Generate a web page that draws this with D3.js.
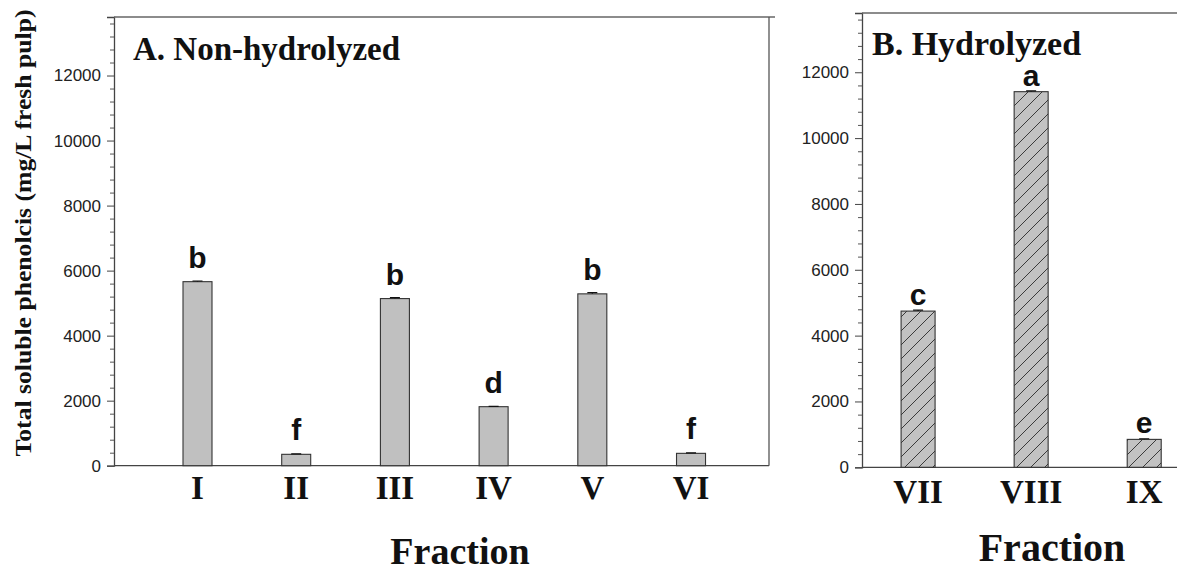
<!DOCTYPE html>
<html>
<head>
<meta charset="utf-8">
<script src="https://d3js.org/d3.v7.min.js"></script>
<style>
  body { margin: 0; background: #fff; }
  svg { display: block; }
</style>
</head>
<body>
<svg id="chart" width="1177" height="571"></svg>
<script>
// panel A: non-hydrolyzed fractions
var fractionsA = ["I", "II", "III", "IV", "V", "VI"];
var valuesA = [5660, 350, 5140, 1815, 5285, 380];
var errorsA = [20, 15, 30, 10, 35, 15];
var lettersA = ["b", "f", "b", "d", "b", "f"];

// panel B: hydrolyzed fractions
var fractionsB = ["VII", "VIII", "IX"];
var valuesB = [4745, 11410, 848];
var errorsB = [30, 25, 20];
var lettersB = ["c", "a", "e"];

var yTicks = [0, 2000, 4000, 6000, 8000, 10000, 12000];
var yMax = 13800;

var svg = d3.select("#chart");
var serif = "'Liberation Serif', 'Times New Roman', serif";
var sans = "'Liberation Sans', Arial, sans-serif";

// hatch for hydrolyzed bars
var defs = svg.append("defs");
var hatch = defs.append("pattern")
    .attr("id", "hatch")
    .attr("patternUnits", "userSpaceOnUse")
    .attr("width", 14)
    .attr("height", 14);
hatch.append("rect").attr("width", 14).attr("height", 14).attr("fill", "#c2c2c2");
hatch.append("path")
    .attr("d", "M-3,17 L17,-3 M-3,3 L3,-3 M11,17 L17,11")
    .attr("stroke", "#3a3a3a")
    .attr("stroke-width", 1);

function drawPanel(cfg) {
  var x = d3.scaleLinear().domain(cfg.xDomain).range([cfg.left, cfg.right]);
  var y = d3.scaleLinear().domain([0, yMax]).range([cfg.bottom, cfg.top]);
  var g = svg.append("g");

  // y axis: majors with labels, minor every 400
  var yAxis = d3.axisLeft(y).tickValues(yTicks).tickSize(7).tickPadding(6)
      .tickFormat(d3.format("d"));
  var ag = g.append("g").attr("transform", "translate(" + cfg.left + ",0)").call(yAxis);
  ag.select(".domain").attr("stroke", "#444").attr("stroke-width", 1.3);
  ag.selectAll(".tick line").attr("stroke", "#444");
  ag.selectAll("text").attr("font-family", sans).attr("font-size", 17).attr("fill", "#222");

  var minor = d3.range(0, yMax, 400).filter(function(v) { return v % 2000 !== 0; });
  var mg = g.append("g").attr("transform", "translate(" + cfg.left + ",0)")
      .call(d3.axisLeft(y).tickValues(minor).tickSize(4).tickFormat(""));
  mg.select(".domain").remove();
  mg.selectAll(".tick line").attr("stroke", "#555");

  // frame lines
  g.append("line")
      .attr("x1", cfg.left).attr("x2", cfg.frameRight)
      .attr("y1", cfg.top).attr("y2", cfg.top)
      .attr("stroke", "#666").attr("stroke-width", 1.5);
  g.append("line")
      .attr("x1", cfg.left).attr("x2", cfg.right)
      .attr("y1", cfg.bottom).attr("y2", cfg.bottom)
      .attr("stroke", "#444").attr("stroke-width", 1.3);
  if (cfg.rightBorder) {
    g.append("line")
        .attr("x1", cfg.right).attr("x2", cfg.right)
        .attr("y1", cfg.top).attr("y2", cfg.bottom)
        .attr("stroke", "#555").attr("stroke-width", 1.3);
  }

  var data = cfg.names.map(function(n, i) {
    return { name: n, value: cfg.values[i], err: cfg.errors[i], letter: cfg.letters[i], pos: i + 1 };
  });

  // bars
  g.selectAll("rect.bar").data(data).enter().append("rect")
      .attr("class", "bar")
      .attr("x", function(d) { return x(d.pos) - cfg.barWidth / 2; })
      .attr("width", cfg.barWidth)
      .attr("y", function(d) { return y(d.value); })
      .attr("height", function(d) { return y(0) - y(d.value); })
      .attr("fill", cfg.fill)
      .attr("stroke", "#333")
      .attr("stroke-width", 1.1);

  // error caps
  g.selectAll("path.err").data(data).enter().append("path")
      .attr("class", "err")
      .attr("d", function(d) {
        var cx = x(d.pos), t = y(d.value + d.err);
        return "M" + (cx - 5) + "," + t + "H" + (cx + 5) + "M" + cx + "," + t + "V" + y(d.value);
      })
      .attr("stroke", "#111").attr("stroke-width", 1.2).attr("fill", "none");

  // significance letters
  g.selectAll("text.letter").data(data).enter().append("text")
      .attr("class", "letter")
      .attr("x", function(d) { return x(d.pos); })
      .attr("y", function(d) { return y(d.value) - cfg.letterGap; })
      .attr("text-anchor", "middle")
      .attr("font-family", sans).attr("font-weight", "bold").attr("font-size", 30)
      .attr("fill", "#111")
      .text(function(d) { return d.letter; });

  // roman fraction labels
  g.selectAll("text.frac").data(data).enter().append("text")
      .attr("class", "frac")
      .attr("x", function(d) { return x(d.pos); })
      .attr("y", cfg.labelY)
      .attr("text-anchor", "middle")
      .attr("font-family", serif).attr("font-weight", "bold").attr("font-size", 33)
      .attr("fill", "#111")
      .text(function(d) { return d.name; });

  // panel title
  g.append("text")
      .attr("x", cfg.titleX).attr("y", cfg.titleY)
      .attr("font-family", serif).attr("font-weight", "bold").attr("font-size", cfg.titleSize)
      .attr("fill", "#111")
      .text(cfg.title);

  // x title
  g.append("text")
      .attr("x", cfg.xTitleX).attr("y", cfg.xTitleY)
      .attr("text-anchor", "middle")
      .attr("font-family", serif).attr("font-weight", "bold").attr("font-size", cfg.xTitleSize)
      .attr("fill", "#111")
      .text("Fraction");
}

drawPanel({
  names: fractionsA, values: valuesA, errors: errorsA, letters: lettersA,
  xDomain: [0.154, 6.79], left: 114, right: 769, frameRight: 775,
  top: 17, bottom: 465.7, rightBorder: true,
  barWidth: 29, fill: "#c0c0c0", letterGap: 14, labelY: 499,
  title: "A. Non-hydrolyzed", titleX: 133, titleY: 60, titleSize: 33,
  xTitleX: 460, xTitleY: 564, xTitleSize: 38
});

drawPanel({
  names: fractionsB, values: valuesB, errors: errorsB, letters: lettersB,
  xDomain: [0.504, 3.29], left: 862, right: 1177, frameRight: 1177,
  top: 13, bottom: 467.3, rightBorder: false,
  barWidth: 34, fill: "url(#hatch)", letterGap: 6, labelY: 503,
  title: "B. Hydrolyzed", titleX: 872, titleY: 55, titleSize: 34,
  xTitleX: 1052, xTitleY: 561, xTitleSize: 40
});

// shared y title
svg.append("text")
    .attr("transform", "translate(31,233) rotate(-90)")
    .attr("text-anchor", "middle")
    .attr("font-family", serif).attr("font-weight", "bold").attr("font-size", 24)
    .attr("textLength", 447).attr("lengthAdjust", "spacingAndGlyphs")
    .attr("fill", "#111")
    .text("Total soluble phenolcis (mg/L fresh pulp)");
</script>
</body>
</html>
